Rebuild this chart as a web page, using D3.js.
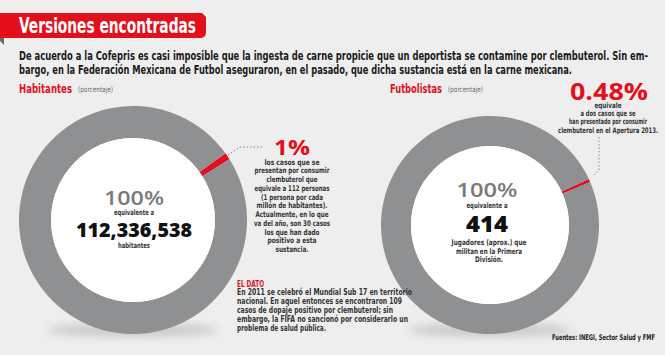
<!DOCTYPE html>
<html>
<head>
<meta charset="utf-8">
<script src="https://cdn.jsdelivr.net/npm/d3@7"></script>
<style>
  html, body { margin: 0; padding: 0; background: #eeeeee; }
  svg { display: block; }
</style>
</head>
<body>
<svg id="chart" width="665" height="355"></svg>
<script>
// ---------- DATA ----------
const title = "Versiones encontradas";
const introLines = [
  "De acuerdo a la Cofepris es casi imposible que la ingesta de carne propicie que un deportista se contamine por clembuterol. Sin em-",
  "bargo, en la Federación Mexicana de Futbol aseguraron, en el pasado, que dicha sustancia está en la carne mexicana."
];
const categories = ["Habitantes", "Futbolistas"];
const positivePct = [1, 0.48];          // share of positive cases (%)
const restPct = [99, 99.52];            // remaining share (%)
const pctLabels = ["1%", "0.48%"];
const totalLabels = ["112,336,538", "414"];
const totalNotes = [
  ["habitantes"],
  ["Jugadores (aprox.) que", "militan en la Primera", "División."]
];
const noteLeft = [
  "los casos que se", "presentan por consumir", "clembuterol que",
  "equivale a 112 personas", "(1 persona por cada", "millón de habitantes).",
  "Actualmente, en lo que", "va del año, son 30 casos", "los que han dado",
  "positivo a esta", "sustancia."
];
const noteRight = [
  "equivale", "a dos casos  que se", "han presentado por consumir",
  "clembuterol en el Apertura 2013."
];
const datoTitle = "EL DATO";
const datoLines = [
  "En 2011 se celebró el Mundial Sub 17 en territorio",
  "nacional. En aquel entonces se encontraron 109",
  "casos de dopaje positivo por clembuterol; sin",
  "embargo, la FIFA no sancionó por considerarlo un",
  "problema de salud pública."
];
const source = "Fuentes: INEGI, Sector Salud y FMF";

// ---------- STYLE / LAYOUT ----------
const RED = "#e3101c", GREY = "#8f9092", BG = "#eeeeee";
const NARROW = "'Liberation Sans Narrow', 'DejaVu Sans Condensed', 'Liberation Sans', sans-serif";
const GEO = "'Open Sans', 'Lato', 'DejaVu Sans', sans-serif";
const svg = d3.select("#chart");

svg.append("rect").attr("width", 665).attr("height", 355).attr("fill", BG);

const defs = svg.append("defs");
defs.append("filter").attr("id", "blur").attr("x", "-50%").attr("y", "-50%").attr("width", "200%").attr("height", "200%")
  .append("feGaussianBlur").attr("stdDeviation", 4);

// Title banner
svg.append("path")
  .attr("d", "M0,13 L202,13 L206,17 L206,32 Q206,38 200,38 L0,38 Z")
  .attr("fill", RED);
svg.append("path").attr("d", "M0,38 L4,38 L4,45 L0,41 Z").attr("fill", "#6b6b6b");
svg.append("text").attr("x", 19).attr("y", 32.5)
  .attr("font-family", NARROW).attr("font-weight", "bold").attr("font-size", 21)
  .attr("fill", "#fff").attr("textLength", 177).attr("lengthAdjust", "spacingAndGlyphs")
  .text(title);

// Intro
const introW = [629, 553];
introLines.forEach((t, i) => {
  svg.append("text").attr("x", 19).attr("y", 60 + i * 14)
    .attr("font-family", NARROW).attr("font-weight", "bold").attr("font-size", 11.8).attr("fill", "#1a1a1a")
    .attr("textLength", introW[i]).attr("lengthAdjust", "spacingAndGlyphs")
    .text(t);
});

// Section labels
const secX = [19, 390];
const secW = [53, 52];
categories.forEach((c, i) => {
  svg.append("text").attr("x", secX[i]).attr("y", 93)
    .attr("font-family", NARROW).attr("font-weight", "bold").attr("font-size", 11.8)
    .attr("fill", RED).attr("textLength", secW[i]).attr("lengthAdjust", "spacingAndGlyphs").text(c);
  svg.append("text").attr("x", secX[i] + secW[i] + 6).attr("y", 92)
    .attr("font-family", NARROW).attr("font-size", 7.5).attr("fill", "#666")
    .attr("textLength", 35).attr("lengthAdjust", "spacingAndGlyphs").text("(porcentaje)");
});

// Donuts
const donuts = [
  { cx: 133, cy: 220, R: 114, r: 82, start: 54.2 },
  { cx: 490, cy: 225, R: 109, r: 79, start: 65 }
];
categories.forEach((c, i) => {
  const d = donuts[i];
  const g = svg.append("g").attr("transform", `translate(${d.cx},${d.cy})`);
  // soft shadow
  g.append("ellipse").attr("cx", 0).attr("cy", d.R - 4).attr("rx", d.R * 0.75).attr("ry", 7)
    .attr("fill", "#bdbdbd").attr("opacity", 0.7).attr("filter", "url(#blur)");
  const a0 = d.start * Math.PI / 180;
  const pie = d3.pie().sort(null).startAngle(a0).endAngle(a0 + 2 * Math.PI);
  const arcs = pie([positivePct[i], restPct[i]]);
  const arc = d3.arc().innerRadius(d.r).outerRadius(d.R);
  g.selectAll("path.slice").data(arcs).join("path").attr("class", "slice")
    .attr("d", arc).attr("fill", (s, k) => k === 0 ? RED : GREY);
  g.append("circle").attr("r", d.r).attr("fill", "#fff");
});

// Centre texts
function centreText(x, y, txt, size, fill, weight, family, w) {
  const t = svg.append("text").attr("x", x).attr("y", y).attr("text-anchor", "middle")
    .attr("font-family", family).attr("font-size", size).attr("fill", fill)
    .attr("font-weight", weight).text(txt);
  if (w) t.attr("textLength", w).attr("lengthAdjust", "spacingAndGlyphs");
  return t;
}
// left
centreText(134, 204.5, "100%", 19.5, "#7a7a7a", "600", GEO, 60);
centreText(134, 214.5, "equivalente a", 7.5, "#333", "bold", NARROW, 40);
centreText(134, 237, totalLabels[0], 20, "#111", "800", GEO, 116);
totalNotes[0].forEach((t, k) => centreText(134, 247.5 + k * 9, t, 7.5, "#333", "bold", NARROW, 32));
// right
centreText(487, 197, "100%", 19.5, "#7a7a7a", "600", GEO, 61);
centreText(487, 207.5, "equivalente a", 7.5, "#333", "bold", NARROW, 41);
centreText(487, 232, totalLabels[1], 23, "#111", "800", GEO, 42);
const rightNoteW = [75, 66, 28];
totalNotes[1].forEach((t, k) => centreText(489, 245 + k * 8.7, t, 7.8, "#333", "bold", NARROW, rightNoteW[k]));

// Percentage callouts
centreText(292, 155, pctLabels[0], 21, RED, "bold", GEO, 36);
centreText(609, 100, pctLabels[1], 24, RED, "bold", GEO, 78);

// Left note
const noteLW = [55, 75, 51, 75, 62, 71, 73, 76, 55, 49, 33];
noteLeft.forEach((t, k) => centreText(292, 164.5 + k * 8.75, t, 7.8, "#333", "bold", NARROW, noteLW[k]));
// Right note
const noteRW = [27, 55, 78, 100];
noteRight.forEach((t, k) => centreText(608, 108 + k * 8.2, t, 7.6, "#333", "bold", NARROW, noteRW[k]));

// Leader lines
const leader = d3.line();
svg.append("path").attr("d", leader([[228, 155], [240, 147], [263, 147]]))
  .attr("fill", "none").attr("stroke", "#8a8a8a").attr("stroke-width", 1).attr("stroke-dasharray", "1.5,2");
svg.append("path").attr("d", leader([[599, 137], [599, 170], [593, 176]]))
  .attr("fill", "none").attr("stroke", "#8a8a8a").attr("stroke-width", 1).attr("stroke-dasharray", "1.5,2");

// EL DATO
svg.append("text").attr("x", 237).attr("y", 286.5)
  .attr("font-family", NARROW).attr("font-weight", "bold").attr("font-size", 9)
  .attr("fill", RED).attr("textLength", 27).attr("lengthAdjust", "spacingAndGlyphs").text(datoTitle);
const datoW = [175, 165, 156, 171, 89];
datoLines.forEach((t, k) => {
  svg.append("text").attr("x", 237).attr("y", 295 + k * 9)
    .attr("font-family", NARROW).attr("font-weight", "bold").attr("font-size", 8).attr("fill", "#333")
    .attr("textLength", datoW[k]).attr("lengthAdjust", "spacingAndGlyphs").text(t);
});

// Source
svg.append("text").attr("x", 552).attr("y", 340)
  .attr("font-family", NARROW).attr("font-weight", "bold").attr("font-size", 7.8).attr("fill", "#222")
  .attr("textLength", 103).attr("lengthAdjust", "spacingAndGlyphs").text(source);
</script>
</body>
</html>
